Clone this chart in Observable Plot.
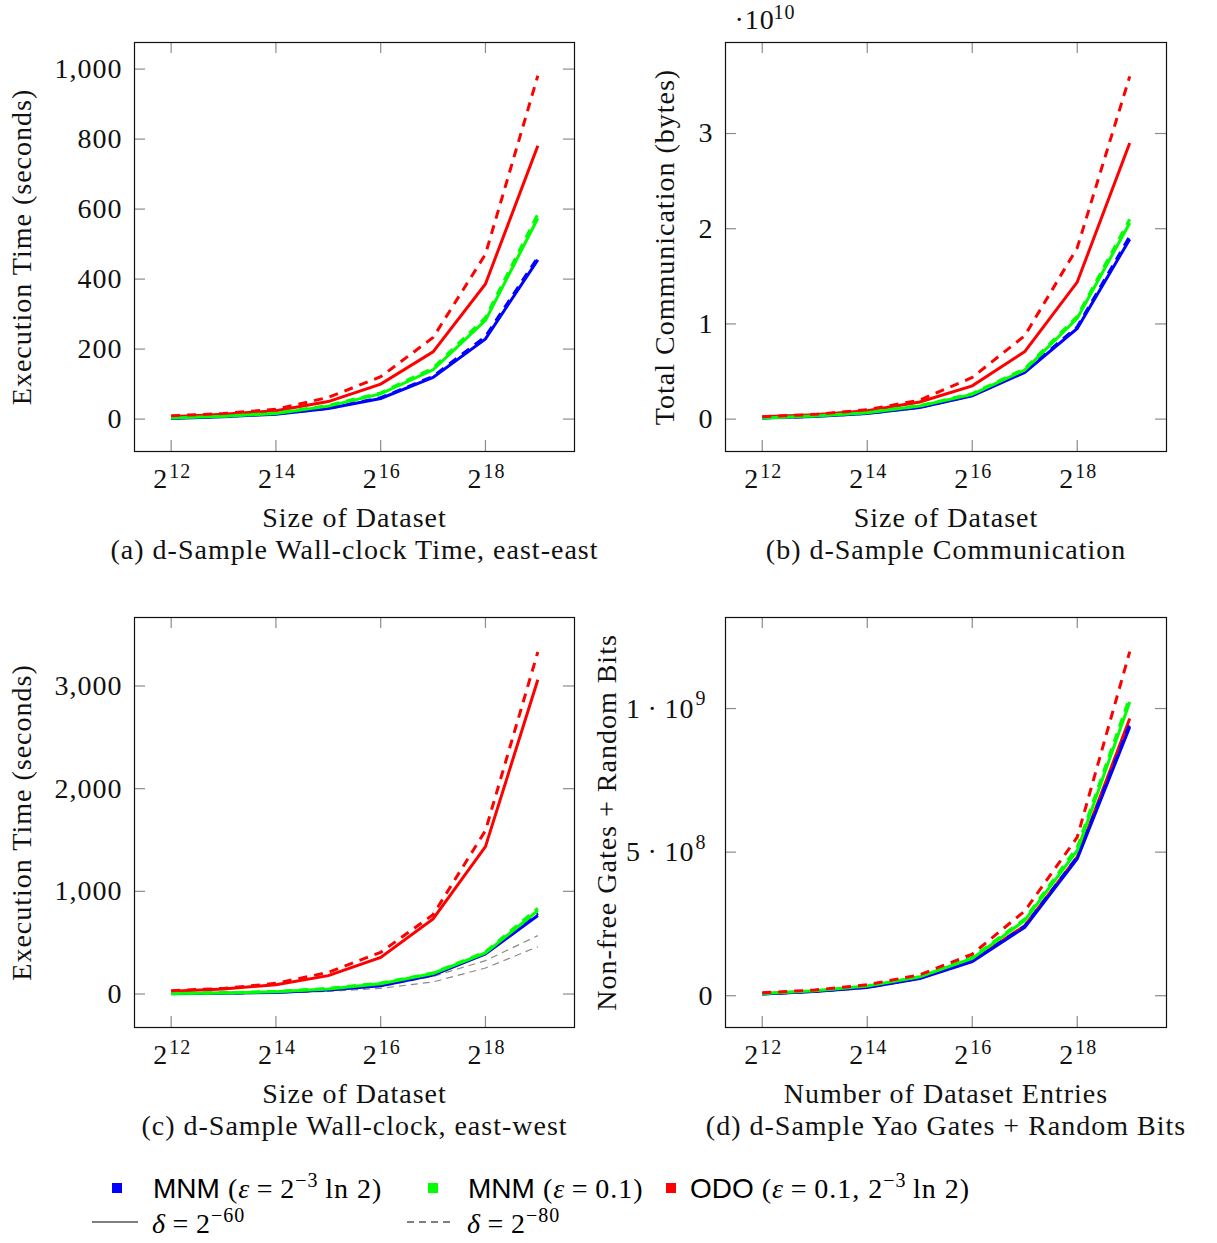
<!DOCTYPE html>
<html><head><meta charset="utf-8">
<script src="https://cdn.jsdelivr.net/npm/d3@7"></script>
<script src="https://cdn.jsdelivr.net/npm/@observablehq/plot@0.6"></script>
<style>
body{margin:0;background:#fff;}
#root{position:relative;width:1217px;height:1243px;overflow:hidden;background:#fff;}
</style></head><body><div id="root"></div>
<script>
// ---------- data ----------
const sizes = [4096, 8192, 16384, 32768, 65536, 131072, 262144, 524288];
const xTickValues = [4096, 16384, 65536, 262144];

// (a) wall-clock east-east, seconds
const aBlue60  = [2, 7, 14, 30, 59, 119, 229, 455];
const aBlue80  = [3, 8, 15, 31, 61, 122, 236, 462];
const aGreen60 = [3, 8, 16, 37, 72, 141, 282, 574];
const aGreen80 = [4, 9, 17, 39, 75, 146, 290, 586];
const aRed60   = [7, 14, 24, 50, 100, 192, 386, 781];
const aRed80   = [9.5, 16, 28, 62, 121, 233, 471, 981];
const aYTicks  = [0, 200, 400, 600, 800, 1000];

// (b) communication, bytes
const bBlue60  = [1.2e8, 2.8e8, 6.0e8, 1.23e9, 2.45e9, 4.9e9, 9.53e9, 1.89e10];
const bBlue80  = [1.3e8, 3.0e8, 6.2e8, 1.26e9, 2.5e9, 5.0e9, 9.7e9, 1.92e10];
const bGreen60 = [1.2e8, 3.3e8, 6.8e8, 1.37e9, 2.6e9, 5.15e9, 1.06e10, 2.06e10];
const bGreen80 = [1.3e8, 3.5e8, 7.1e8, 1.42e9, 2.68e9, 5.3e9, 1.08e10, 2.10e10];
const bRed60   = [2.4e8, 4.5e8, 8.8e8, 1.8e9, 3.5e9, 7.1e9, 1.44e10, 2.90e10];
const bRed80   = [2.5e8, 5.0e8, 9.8e8, 2.0e9, 4.38e9, 8.76e9, 1.80e10, 3.60e10];
const bYTicks  = [0, 1e10, 2e10, 3e10];

// (c) wall-clock east-west, seconds
const cBlue60  = [3, 8, 16, 39, 81, 185, 390, 764];
const cBlue80  = [4, 9, 18, 42, 86, 192, 398, 785];
const cGreen60 = [5, 10, 22, 50, 100, 200, 400, 812];
const cGreen80 = [6, 12, 26, 55, 107, 205, 410, 835];
const cRed60   = [26, 49, 91, 179, 357, 731, 1436, 3061];
const cRed80   = [32, 55, 104, 211, 406, 773, 1592, 3331];
const cGrayA   = [3, 6, 16, 39, 72, 172, 325, 569];
const cGrayB   = [2, 4, 10, 26, 55, 118, 253, 461];
const cYTicks  = [0, 1000, 2000, 3000];

// (d) Yao gates + random bits
const dBlue60  = [6e6, 1.5e7, 2.9e7, 6.0e7, 1.19e8, 2.38e8, 4.77e8, 9.36e8];
const dBlue80  = [6.5e6, 1.55e7, 3.0e7, 6.1e7, 1.21e8, 2.42e8, 4.83e8, 9.45e8];
const dGreen60 = [8e6, 1.7e7, 3.4e7, 6.6e7, 1.30e8, 2.62e8, 5.06e8, 1.023e9];
const dGreen80 = [8.5e6, 1.8e7, 3.5e7, 6.7e7, 1.34e8, 2.67e8, 5.17e8, 1.04e9];
const dRed60   = [7e6, 1.6e7, 3.2e7, 6.2e7, 1.22e8, 2.44e8, 4.83e8, 9.65e8];
const dRed80   = [1.0e7, 2.0e7, 3.8e7, 7.3e7, 1.45e8, 2.95e8, 5.52e8, 1.198e9];
const dYTicks  = [0, 5e8, 1e9];

// ---------- styles ----------
const BLUE = "#0000ff", GREEN = "#00ff00", RED = "#ff0000", GRAY = "#8a8a8a";
const DASH = "9,7";
const FONT = "'Liberation Serif', 'Times New Roman', serif";
const FS = 28, FS_SUP = 20;

function line(values, stroke, dashed, width = 3, dash = DASH) {
  return Plot.line(sizes.map((x, i) => ({x, y: values[i]})), {
    x: "x", y: "y", stroke, strokeWidth: width,
    strokeDasharray: dashed ? dash : undefined,
    strokeLinecap: "butt", strokeLinejoin: "miter", strokeMiterlimit: 10
  });
}

function simpleYLabels(ticks, fmt) {
  return [Plot.text(ticks, {y: d => d, text: fmt, frameAnchor: "left", dx: -12,
    textAnchor: "end", lineAnchor: "middle", fontSize: FS})];
}

function makePanel(o) {
  const {left, top, width, height, ml, mr, mt, mb} = o;
  const W = width - ml - mr, H = height - mt - mb, TL = 11;
  const tk = {stroke: "#8c8c8c", strokeWidth: 1.2};
  const marks = [
    Plot.tickX(xTickValues, {x: d => d, insetTop: H - TL, ...tk}),
    Plot.tickX(xTickValues, {x: d => d, insetBottom: H - TL, ...tk}),
    Plot.tickY(o.yTicks, {y: d => d, insetRight: W - TL, ...tk}),
    Plot.tickY(o.yTicks, {y: d => d, insetLeft: W - TL, ...tk}),
    ...o.lines,
    Plot.frame({stroke: "#111", strokeWidth: 1.2}),
    Plot.text(xTickValues, {x: d => d, text: () => "2", frameAnchor: "bottom", dy: 36, dx: -3,
      textAnchor: "end", lineAnchor: "bottom", fontSize: FS}),
    Plot.text(xTickValues, {x: d => d, text: d => String(Math.round(Math.log2(d))), frameAnchor: "bottom",
      dy: 26, dx: -2, textAnchor: "start", lineAnchor: "bottom", fontSize: FS_SUP}),
    Plot.text([o.xlabel], {frameAnchor: "bottom", dy: 75, textAnchor: "middle", lineAnchor: "bottom", fontSize: FS}),
    Plot.text([o.caption], {frameAnchor: "bottom", dy: 107, textAnchor: "middle", lineAnchor: "bottom", fontSize: FS}),
    Plot.text([o.ylabel], {frameAnchor: "left", dx: o.ylabelDx, rotate: -90, textAnchor: "middle", lineAnchor: "middle", fontSize: FS}),
    ...o.yLabelMarks,
    ...(o.extra || [])
  ];
  const svg = Plot.plot({
    width, height, marginLeft: ml, marginRight: mr, marginTop: mt, marginBottom: mb,
    x: {type: "log", base: 2, domain: [2 ** 11.3, 2 ** 19.7], axis: null},
    y: {domain: o.yDomain, axis: null},
    style: {fontFamily: FONT, fontSize: FS + "px", letterSpacing: "1px", background: "transparent", overflow: "visible", color: "#111"},
    marks
  });
  svg.style.position = "absolute";
  svg.style.left = left + "px";
  svg.style.top = top + "px";
  svg.style.maxWidth = "none";
  document.getElementById("root").appendChild(svg);
}

const fmtComma = d3.format(",");

// (a)
makePanel({
  left: 0, top: 0, width: 608, height: 575, ml: 134, mr: 34, mt: 42, mb: 124,
  yDomain: [-92.6, 1076], yTicks: aYTicks,
  yLabelMarks: simpleYLabels(aYTicks, d => fmtComma(d)),
  ylabel: "Execution Time (seconds)", ylabelDx: -112,
  xlabel: "Size of Dataset", caption: "(a) d-Sample Wall-clock Time, east-east",
  lines: [
    line(aRed60, RED, false),
    line(aBlue60, BLUE, false), line(aBlue80, BLUE, true),
    line(aGreen60, GREEN, false), line(aGreen80, GREEN, true),
    line(aRed80, RED, true)
  ]
});

// (b)
makePanel({
  left: 608, top: 0, width: 609, height: 575, ml: 117, mr: 51, mt: 42, mb: 124,
  yDomain: [-0.34e10, 3.956e10], yTicks: bYTicks,
  yLabelMarks: simpleYLabels(bYTicks, d => String(d / 1e10)),
  ylabel: "Total Communication (bytes)", ylabelDx: -60,
  xlabel: "Size of Dataset", caption: "(b) d-Sample Communication",
  lines: [
    line(bRed60, RED, false),
    line(bBlue60, BLUE, false), line(bBlue80, BLUE, true),
    line(bGreen60, GREEN, false), line(bGreen80, GREEN, true),
    line(bRed80, RED, true)
  ],
  extra: [
    Plot.text(["·10"], {frameAnchor: "top-left", dx: 9, dy: -14, textAnchor: "start", lineAnchor: "bottom", fontSize: FS}),
    Plot.text(["10"], {frameAnchor: "top-left", dx: 48, dy: -24, textAnchor: "start", lineAnchor: "bottom", fontSize: FS_SUP})
  ]
});

// (c)
makePanel({
  left: 0, top: 575, width: 608, height: 575, ml: 134, mr: 34, mt: 42, mb: 123,
  yDomain: [-326, 3667], yTicks: cYTicks,
  yLabelMarks: simpleYLabels(cYTicks, d => fmtComma(d)),
  ylabel: "Execution Time (seconds)", ylabelDx: -112,
  xlabel: "Size of Dataset", caption: "(c) d-Sample Wall-clock, east-west",
  lines: [
    line(cGrayA, GRAY, true, 1.2, "7,5"), line(cGrayB, GRAY, true, 1.2, "7,5"),
    line(cRed60, RED, false),
    line(cBlue60, BLUE, false), line(cBlue80, BLUE, true),
    line(cGreen60, GREEN, false), line(cGreen80, GREEN, true),
    line(cRed80, RED, true)
  ]
});

// (d)
const expOf = d => Math.floor(Math.log10(d));
makePanel({
  left: 608, top: 575, width: 609, height: 575, ml: 117, mr: 51, mt: 42, mb: 123,
  yDomain: [-1.106e8, 1.317e9], yTicks: dYTicks,
  yLabelMarks: [
    Plot.text(dYTicks.filter(d => d === 0), {y: d => d, text: () => "0", frameAnchor: "left", dx: -12,
      textAnchor: "end", lineAnchor: "middle", fontSize: FS}),
    Plot.text(dYTicks.filter(d => d > 0), {y: d => d, text: d => `${d / 10 ** expOf(d)}\u2009·\u200910`,
      frameAnchor: "left", dx: -31, textAnchor: "end", lineAnchor: "middle", fontSize: FS}),
    Plot.text(dYTicks.filter(d => d > 0), {y: d => d, text: d => String(expOf(d)),
      frameAnchor: "left", dx: -19, dy: -10, textAnchor: "end", lineAnchor: "middle", fontSize: FS_SUP})
  ],
  ylabel: "Non-free Gates + Random Bits", ylabelDx: -118,
  xlabel: "Number of Dataset Entries", caption: "(d) d-Sample Yao Gates + Random Bits",
  lines: [
    line(dRed60, RED, false),
    line(dBlue60, BLUE, false), line(dBlue80, BLUE, true),
    line(dGreen60, GREEN, false), line(dGreen80, GREEN, true),
    line(dRed80, RED, true)
  ]
});

// ---------- legend ----------
const legendItems = [
  {color: BLUE, name: "MNM", eps: ["2", "−3", "ln 2"]},
  {color: GREEN, name: "MNM", eps: ["0.1"]},
  {color: RED, name: "ODO", eps: ["0.1, 2", "−3", "ln 2"]}
];
const deltas = ["−60", "−80"];
const S = "font-family:\"Liberation Sans\",Arial,sans-serif";
function epsSpans(e) {
  if (e.length === 1) return `<tspan>${e[0]})</tspan>`;
  return `<tspan>${e[0]}</tspan><tspan dy="-11" font-size="${FS_SUP}">${e[1]}</tspan><tspan dy="11">\u2009${e[2]})</tspan>`;
}
const lx = [112, 428, 666], tx = [153, 468, 690];
let lg = `<svg width="1217" height="93" style="position:absolute;left:0;top:1150px" font-family="${FONT.replace(/'/g, "&quot;")}" font-size="${FS}" letter-spacing="1">`;
legendItems.forEach((it, i) => {
  lg += `<rect x="${lx[i]}" y="33" width="10" height="10" fill="${it.color}"/>`;
  lg += `<text x="${tx[i]}" y="48"><tspan style='${S}' letter-spacing="0">${it.name}</tspan><tspan> (</tspan><tspan font-style="italic">ε</tspan><tspan>\u2009=\u2009</tspan>${epsSpans(it.eps)}</text>`;
});
const dl = [[92, 138, 152, "none"], [407, 455, 467, "7,5"]];
dl.forEach((d, i) => {
  lg += `<line x1="${d[0]}" x2="${d[1]}" y1="72" y2="72" stroke="#555" stroke-width="1.5" ${d[3] !== "none" ? `stroke-dasharray="${d[3]}"` : ""}/>`;
  lg += `<text x="${d[2]}" y="83"><tspan font-style="italic">δ</tspan><tspan>\u2009=\u20092</tspan><tspan dy="-11" font-size="${FS_SUP}">${deltas[i]}</tspan></text>`;
});
lg += `</svg>`;
document.getElementById("root").insertAdjacentHTML("beforeend", lg);
</script></body></html>
